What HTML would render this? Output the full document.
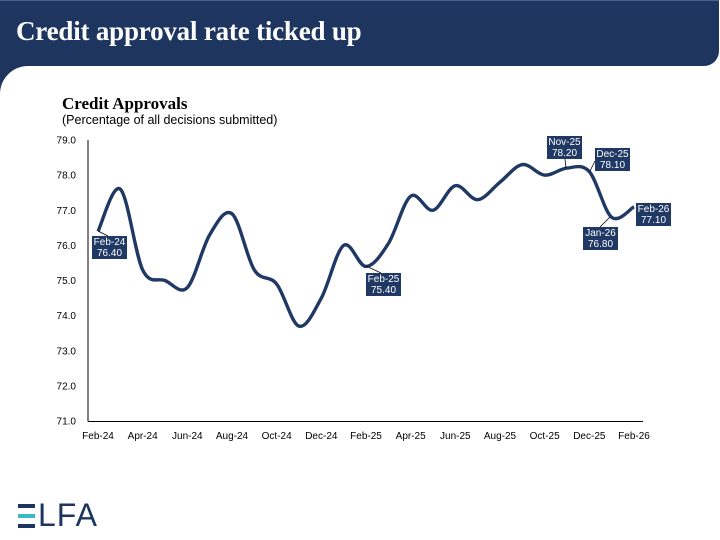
<!DOCTYPE html>
<html><head><meta charset="utf-8"><style>
body{margin:0;width:720px;height:540px;background:#fff;position:relative;overflow:hidden;font-family:"Liberation Sans",sans-serif}
.a{position:absolute}
.lbl{position:absolute;background:#1f3864;color:#fff;font-size:10px;line-height:11.5px;text-align:center;width:35px;height:23px;box-sizing:border-box;padding-top:0.5px}
</style></head><body>
<div class="a" style="left:0;top:0;width:719px;height:66px;background:#1e365f;border-bottom-right-radius:15px;border-top:1px solid #4a6090;box-sizing:border-box"></div>
<div class="a" style="left:0;top:60px;width:40px;height:34px;background:#1e365f"></div>
<div class="a" style="left:0;top:66px;width:80px;height:50px;background:#fff;border-top-left-radius:28px"></div>
<div class="a" style="left:16px;top:16px;color:#fff;font-family:'Liberation Serif',serif;font-weight:bold;font-size:27px;letter-spacing:-0.2px">Credit approval rate ticked up</div>
<div class="a" style="left:62px;top:94px;font-family:'Liberation Serif',serif;font-weight:bold;font-size:17px;color:#000">Credit Approvals</div>
<div class="a" style="left:62px;top:113px;font-size:12.5px;color:#000">(Percentage of all decisions submitted)</div>
<svg class="a" style="left:0;top:0" width="720" height="540" id="s">
<g font-family="Liberation Sans" font-size="10" fill="#000" id="ax"></g>
<line x1="88" y1="140" x2="88" y2="421.5" stroke="#000" stroke-width="1"/>
<line x1="88" y1="421.5" x2="643" y2="421.5" stroke="#000" stroke-width="1"/>
<path id="p" fill="none" stroke="#1f3864" stroke-width="3.4"/>
<g stroke="#000" stroke-width="0.8">
<line x1="98" y1="231" x2="108" y2="236"/>
<line x1="366" y1="266" x2="381" y2="273"/>
<line x1="566" y1="168" x2="565" y2="159"/>
<line x1="590" y1="171" x2="595" y2="161"/>
<line x1="610" y1="217" x2="600" y2="227"/>
</g>
</svg>
<div class="lbl" style="left:92px;top:236px">Feb-24<br>76.40</div>
<div class="lbl" style="left:366px;top:273px">Feb-25<br>75.40</div>
<div class="lbl" style="left:547px;top:136px">Nov-25<br>78.20</div>
<div class="lbl" style="left:595px;top:148px">Dec-25<br>78.10</div>
<div class="lbl" style="left:583px;top:227px">Jan-26<br>76.80</div>
<div class="lbl" style="left:636px;top:203px">Feb-26<br>77.10</div>
<div class="a" style="left:18px;top:504px;width:17px;height:3.5px;background:#1e365f"></div>
<div class="a" style="left:18px;top:514px;width:17px;height:3.5px;background:#3bb8c9"></div>
<div class="a" style="left:18px;top:524px;width:17px;height:3.5px;background:#1e365f"></div>
<div class="a" style="left:38px;top:497px;font-size:32px;color:#1e365f;letter-spacing:1px">LFA</div>
<script>
var v=[76.4,77.6,75.3,75.0,74.8,76.3,76.9,75.3,74.9,73.7,74.5,76.0,75.4,76.05,77.4,77.0,77.7,77.3,77.8,78.3,78.0,78.2,78.1,76.8,77.1];
var P=v.map(function(y,i){return [98+i*536/24,140+(79-y)*35.125];});
var d="M"+P[0][0]+","+P[0][1];
for(var i=0;i<P.length-1;i++){var p0=P[Math.max(0,i-1)],p1=P[i],p2=P[i+1],p3=P[Math.min(P.length-1,i+2)];
var t=1/6;d+=" C"+(p1[0]+(p2[0]-p0[0])*t)+","+(p1[1]+(p2[1]-p0[1])*t)+" "+(p2[0]-(p3[0]-p1[0])*t)+","+(p2[1]-(p3[1]-p1[1])*t)+" "+p2[0]+","+p2[1];}
document.getElementById("p").setAttribute("d",d);
var g=document.getElementById("ax"),h="";
for(var k=0;k<=8;k++){var y=140+k*35.125;h+='<text x="76" y="'+(y+3.5)+'" text-anchor="end">'+(79-k).toFixed(1)+'</text>';}
var m=["Feb-24","Apr-24","Jun-24","Aug-24","Oct-24","Dec-24","Feb-25","Apr-25","Jun-25","Aug-25","Oct-25","Dec-25","Feb-26"];
m.forEach(function(s,j){h+='<text x="'+(98+j*2*536/24)+'" y="439" text-anchor="middle">'+s+'</text>';});
g.innerHTML=h;
</script>
</body></html>
